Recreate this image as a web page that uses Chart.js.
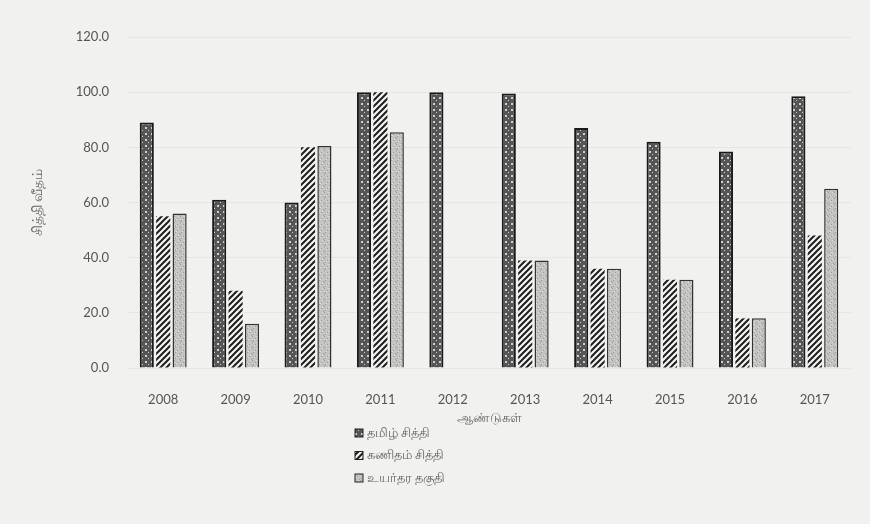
<!DOCTYPE html>
<html>
<head>
<meta charset="utf-8">
<script src="https://cdn.jsdelivr.net/npm/chart.js@4.4.1/dist/chart.umd.min.js"></script>
<style>
  html, body { margin: 0; padding: 0; background: #f1f1ef; }
  #wrap { width: 870px; height: 524px; }
</style>
</head>
<body>
<div id="wrap"><canvas id="passRate" width="870" height="524"></canvas></div>
<script>
// data
const years = ["2008", "2009", "2010", "2011", "2012", "2013", "2014", "2015", "2016", "2017"];
const tamilPass = [89, 61, 60, 100, 100, 99.5, 87, 82, 78.5, 98.5];
const mathsPass = [55, 28, 80, 100, 0, 39, 36, 32, 18, 48];
const alQualified = [56, 16, 80.5, 85.5, 0, 39, 36, 32, 18, 65];
const seriesNames = ["தமிழ் சித்தி", "கணிதம் சித்தி", "உயர்தர தகுதி"];
const yMax = 120;
const yStep = 20;

// fill patterns, like the printed hatching
function makePattern(draw) {
  const c = document.createElement("canvas");
  c.width = 6; c.height = 6;
  draw(c.getContext("2d"));
  return c.getContext("2d").createPattern(c, "repeat");
}
const dottedDark = makePattern(g => {
  g.fillStyle = "#555"; g.fillRect(0, 0, 6, 6);
  g.fillStyle = "#d0d0d0"; g.fillRect(1, 1, 2, 2); g.fillRect(4, 4, 1, 1);
});
const diagonal = makePattern(g => {
  g.fillStyle = "#f4f4f2"; g.fillRect(0, 0, 6, 6);
  g.strokeStyle = "#1e1e1e"; g.lineWidth = 2;
  g.beginPath();
  g.moveTo(-1, 7); g.lineTo(7, -1);
  g.moveTo(-4, 4); g.lineTo(4, -4);
  g.moveTo(2, 10); g.lineTo(10, 2);
  g.stroke();
});
const stipple = makePattern(g => {
  g.fillStyle = "#c4c4c2"; g.fillRect(0, 0, 6, 6);
  g.fillStyle = "#9a9a98"; g.fillRect(0, 0, 1, 1); g.fillRect(3, 2, 1, 1); g.fillRect(1, 4, 1, 1); g.fillRect(5, 5, 1, 1);
  g.fillStyle = "#e0e0de"; g.fillRect(4, 0, 1, 1); g.fillRect(2, 3, 1, 1);
});

const fills = [dottedDark, diagonal, stipple];
const borders = ["#1a1a1a", "rgba(0,0,0,0)", "#333"];
const borderWidths = [2, 0, 1.5];
const values = [tamilPass, mathsPass, alQualified];

// legend stacked under the axis title
const stackedLegend = {
  id: "stackedLegend",
  afterDraw(chart) {
    const ctx = chart.ctx;
    const top = chart.chartArea.bottom + 65;
    ctx.save();
    ctx.font = '13px "Noto Sans", "Lato", sans-serif';
    ctx.textBaseline = "middle";
    chart.data.datasets.forEach((ds, i) => {
      const y = top + i * 22.5;
      const x = 355;
      ctx.fillStyle = ds.backgroundColor;
      ctx.fillRect(x, y - 4, 8, 8);
      ctx.strokeStyle = "#222";
      ctx.lineWidth = 1;
      ctx.strokeRect(x, y - 4, 8, 8);
      ctx.fillStyle = "#666";
      ctx.fillText(ds.label, x + 12, y);
    });
    ctx.restore();
  }
};

new Chart(document.getElementById("passRate"), {
  type: "bar",
  data: {
    labels: years,
    datasets: seriesNames.map((name, i) => ({
      label: name,
      data: values[i],
      backgroundColor: fills[i],
      borderColor: borders[i],
      borderWidth: borderWidths[i],
      barPercentage: 0.86,
      categoryPercentage: 0.68,
    })),
  },
  options: {
    responsive: false,
    animation: false,
    layout: { padding: { left: 26, right: 19, top: 37, bottom: 94 } },
    plugins: {
      legend: { display: false },
      tooltip: { enabled: false },
    },
    scales: {
      x: {
        grid: { display: false },
        border: { display: false },
        ticks: { color: "#555", font: { family: "Lato", size: 13 }, padding: 16 },
        title: {
          display: true,
          text: "ஆண்டுகள்",
          color: "#666",
          font: { family: "Noto Sans", size: 13 },
          padding: { top: 5 },
        },
        afterFit(scale) { scale.height = 62; },
      },
      y: {
        min: 0,
        max: yMax,
        grid: { color: "rgba(0,0,0,0.045)", drawTicks: false },
        border: { display: false },
        ticks: {
          stepSize: yStep,
          color: "#555",
          padding: 18,
          font: { family: "Lato", size: 13 },
          callback: v => v.toFixed(1),
        },
        title: {
          display: true,
          text: "சித்தி வீதம்",
          color: "#666",
          font: { family: "Noto Sans", size: 14 },
        },
        afterFit(scale) { scale.width = 101; },
      },
    },
  },
  plugins: [stackedLegend],
});
</script>
</body>
</html>
